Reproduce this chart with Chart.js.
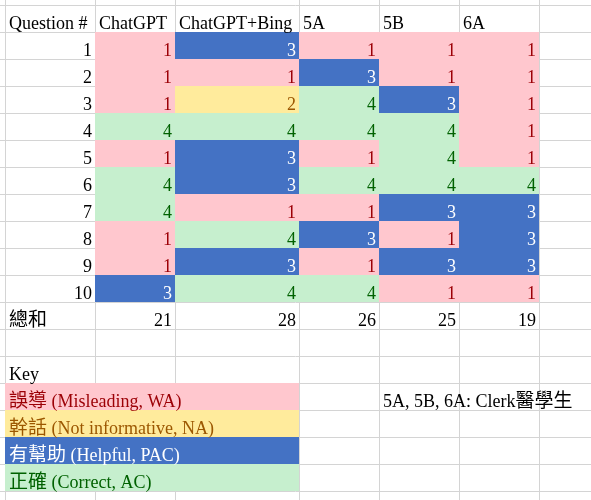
<!DOCTYPE html>
<html>
<head>
<meta charset="utf-8">
<script src="https://cdn.jsdelivr.net/npm/chart.js@4.4.0/dist/chart.umd.min.js"></script>
<style>
html, body { margin: 0; padding: 0; background: #fff; }
canvas { display: block; }
</style>
</head>
<body>
<canvas id="sheet" width="591" height="500"></canvas>
<script>
// table values (1 = WA, 2 = NA, 3 = PAC, 4 = AC)
const firstHeader = 'Question #';
const columns = ['ChatGPT', 'ChatGPT+Bing', '5A', '5B', '6A'];
const questions = [1, 2, 3, 4, 5, 6, 7, 8, 9, 10];
const chatgpt     = [1, 1, 1, 4, 1, 4, 4, 1, 1, 3];
const chatgptBing = [3, 1, 2, 4, 3, 3, 1, 4, 3, 4];
const clerk5A     = [1, 3, 4, 4, 1, 4, 1, 3, 1, 4];
const clerk5B     = [1, 1, 3, 4, 4, 4, 3, 1, 3, 1];
const clerk6A     = [1, 1, 1, 1, 1, 4, 3, 3, 3, 1];
const sumLabel = '總和';
const sums = [21, 28, 26, 25, 19];
const keyTitle = 'Key';
const keyLabels = ['誤導 (Misleading, WA)', '幹話 (Not informative, NA)', '有幫助 (Helpful, PAC)', '正確 (Correct, AC)'];
const keyValues = [1, 2, 3, 4];
const note = '5A, 5B, 6A: Clerk醫學生';

// sheet layout (pixels)
const COL_EDGES = [5, 95, 175, 299, 379, 459, 539];
const ROW_TOP = 5;
const ROW_H = 27;
const N_ROWS = 19;
const GRID = '#d4d4d4';
const FILL = { 1: '#FFC7CE', 2: '#FFEB9C', 3: '#4472C4', 4: '#C6EFCE' };
const INK = { 1: '#9C0006', 2: '#9C5700', 3: '#FFFFFF', 4: '#006100' };
const LATIN_FONT = '18px "Liberation Serif", "DejaVu Serif", serif';
const CJK_FONT = '19px "Noto Sans CJK TC", "Noto Sans CJK SC", sans-serif';

const rowMid = r => ROW_TOP + ROW_H * r + ROW_H / 2;
const rowEdges = Array.from({ length: N_ROWS + 1 }, (_, k) => ROW_TOP + ROW_H * k);

const series = [chatgpt, chatgptBing, clerk5A, clerk5B, clerk6A];

const datasets = series.map((vals, c) => ({
  label: columns[c],
  data: vals.map((v, i) => ({ x: [COL_EDGES[c + 1], COL_EDGES[c + 2]], y: rowMid(i + 1), v: v })),
  backgroundColor: vals.map(v => FILL[v])
}));
datasets.push({
  label: keyTitle,
  data: keyValues.map((v, i) => ({ x: [COL_EDGES[0], COL_EDGES[3]], y: rowMid(14 + i), v: v })),
  backgroundColor: keyValues.map(v => FILL[v])
});

// draws text, switching font between CJK and latin runs
function drawText(ctx, text, x, y, align, color) {
  const parts = String(text).match(/[\u3000-\u9fff\uff00-\uffef]+|[^\u3000-\u9fff\uff00-\uffef]+/g);
  const fonts = parts.map(p => /[\u3000-\u9fff]/.test(p) ? CJK_FONT : LATIN_FONT);
  const widths = parts.map((p, i) => { ctx.font = fonts[i]; return ctx.measureText(p).width; });
  let cx = align === 'right' ? x - widths.reduce((a, b) => a + b, 0) : x;
  ctx.fillStyle = color;
  ctx.textAlign = 'left';
  ctx.textBaseline = 'alphabetic';
  parts.forEach((p, i) => {
    ctx.font = fonts[i];
    ctx.fillText(p, cx, y);
    cx += widths[i];
  });
}

const cellText = {
  id: 'cellText',
  afterDatasetsDraw(chart) {
    const ctx = chart.ctx;
    const xs = chart.scales.x, ys = chart.scales.y;
    const left = c => xs.getPixelForValue(COL_EDGES[c]) + 4;
    const right = c => xs.getPixelForValue(COL_EDGES[c + 1]) - 3;
    const base = r => ys.getPixelForValue(ROW_TOP + ROW_H * (r + 1)) - 3;
    ctx.save();
    drawText(ctx, firstHeader, left(0), base(0), 'left', '#000');
    columns.forEach((name, c) => drawText(ctx, name, left(c + 1), base(0), 'left', '#000'));
    questions.forEach((q, i) => drawText(ctx, q, right(0), base(i + 1), 'right', '#000'));
    series.forEach((vals, c) => vals.forEach((v, i) => drawText(ctx, v, right(c + 1), base(i + 1), 'right', INK[v])));
    drawText(ctx, sumLabel, left(0), base(11), 'left', '#000');
    sums.forEach((s, c) => drawText(ctx, s, right(c + 1), base(11), 'right', '#000'));
    drawText(ctx, keyTitle, left(0), base(13), 'left', '#000');
    keyLabels.forEach((k, i) => drawText(ctx, k, left(0), base(14 + i), 'left', INK[keyValues[i]]));
    drawText(ctx, note, left(4), base(14), 'left', '#000');
    ctx.restore();
  }
};

const hiddenAxis = (min, max, edges, reverse) => ({
  type: 'linear',
  min: min,
  max: max,
  reverse: reverse,
  offset: false,
  border: { display: false },
  grid: { color: GRID, lineWidth: 1, drawTicks: false, offset: false },
  ticks: { display: false },
  afterBuildTicks: axis => { axis.ticks = edges.map(v => ({ value: v })); }
});

new Chart(document.getElementById('sheet'), {
  type: 'bar',
  data: { datasets: datasets },
  options: {
    indexAxis: 'y',
    responsive: false,
    devicePixelRatio: 1,
    animation: false,
    layout: { padding: 0 },
    datasets: {
      bar: { barThickness: ROW_H, grouped: false, borderWidth: 0, inflateAmount: 0 }
    },
    plugins: {
      legend: { display: false },
      tooltip: { enabled: false }
    },
    scales: {
      x: hiddenAxis(0, 591, COL_EDGES, false),
      y: hiddenAxis(0, 500, rowEdges, true)
    }
  },
  plugins: [cellText]
});
</script>
</body>
</html>
